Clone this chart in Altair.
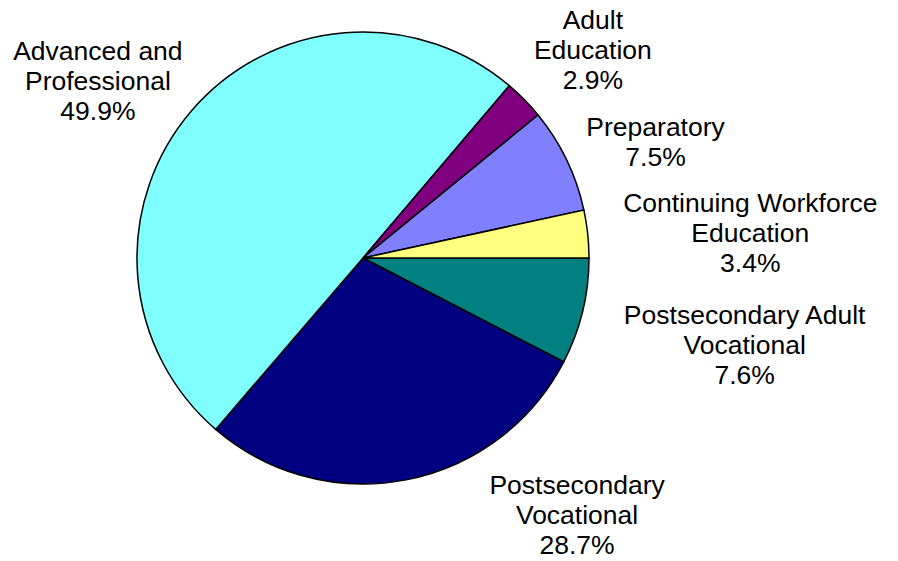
import math
import altair as alt
import pandas as pd

# ---- data ----
categories = [
    "Postsecondary Adult Vocational",
    "Postsecondary Vocational",
    "Advanced and Professional",
    "Adult Education",
    "Preparatory",
    "Continuing Workforce Education",
]
shares = [7.6, 28.7, 49.9, 2.9, 7.5, 3.4]
colors = ["#008080", "#000080", "#80FFFF", "#800080", "#8080FF", "#FFFF80"]
label_lines = [
    ["Postsecondary Adult", "Vocational"],
    ["Postsecondary", "Vocational"],
    ["Advanced and", "Professional"],
    ["Adult", "Education"],
    ["Preparatory"],
    ["Continuing Workforce", "Education"],
]

# ---- label layout (polar, degrees clockwise from top; radius in px) ----
label_angle_deg = [98.6, 136.8, 307.9, 44.1, 66.1, 82.1]
label_radius_px = [386, 312.7, 336, 330.3, 320, 391]

CX, CY, R = 355, 250, 226

df = pd.DataFrame({
    "category": categories,
    "share": shares,
    "order": list(range(len(categories))),
})

labels = pd.DataFrame({
    "category": categories,
    "text": ["\n".join(lines + [f"{v:.1f}%"]) for lines, v in zip(label_lines, shares)],
    "ang": [math.radians(a) for a in label_angle_deg],
    "rad": label_radius_px,
})

pie = alt.Chart(df).mark_arc(
    outerRadius=R, stroke="black", strokeWidth=1.5
).encode(
    theta=alt.Theta("share:Q", stack=True,
                    scale=alt.Scale(range=[math.pi / 2, math.pi / 2 + 2 * math.pi])),
    color=alt.Color("category:N", scale=alt.Scale(domain=categories, range=colors), legend=None),
    order=alt.Order("order:Q"),
    x=alt.value(CX),
    y=alt.value(CY),
)

text = alt.Chart(labels).mark_text(
    font="Liberation Sans", fontSize=26.5, lineHeight=30, lineBreak="\n",
    align="center", baseline="middle", color="black"
).encode(
    theta=alt.Theta("ang:Q", scale=None, stack=None),
    radius=alt.Radius("rad:Q", scale=None),
    text="text:N",
    x=alt.value(CX),
    y=alt.value(CY),
)

chart = alt.layer(pie, text).properties(
    width=880, height=553, padding=0,
    autosize=alt.AutoSizeParams(type="none"),
).configure_view(stroke=None)

chart.save("out.html", embed_options={"renderer": "svg", "actions": False})
